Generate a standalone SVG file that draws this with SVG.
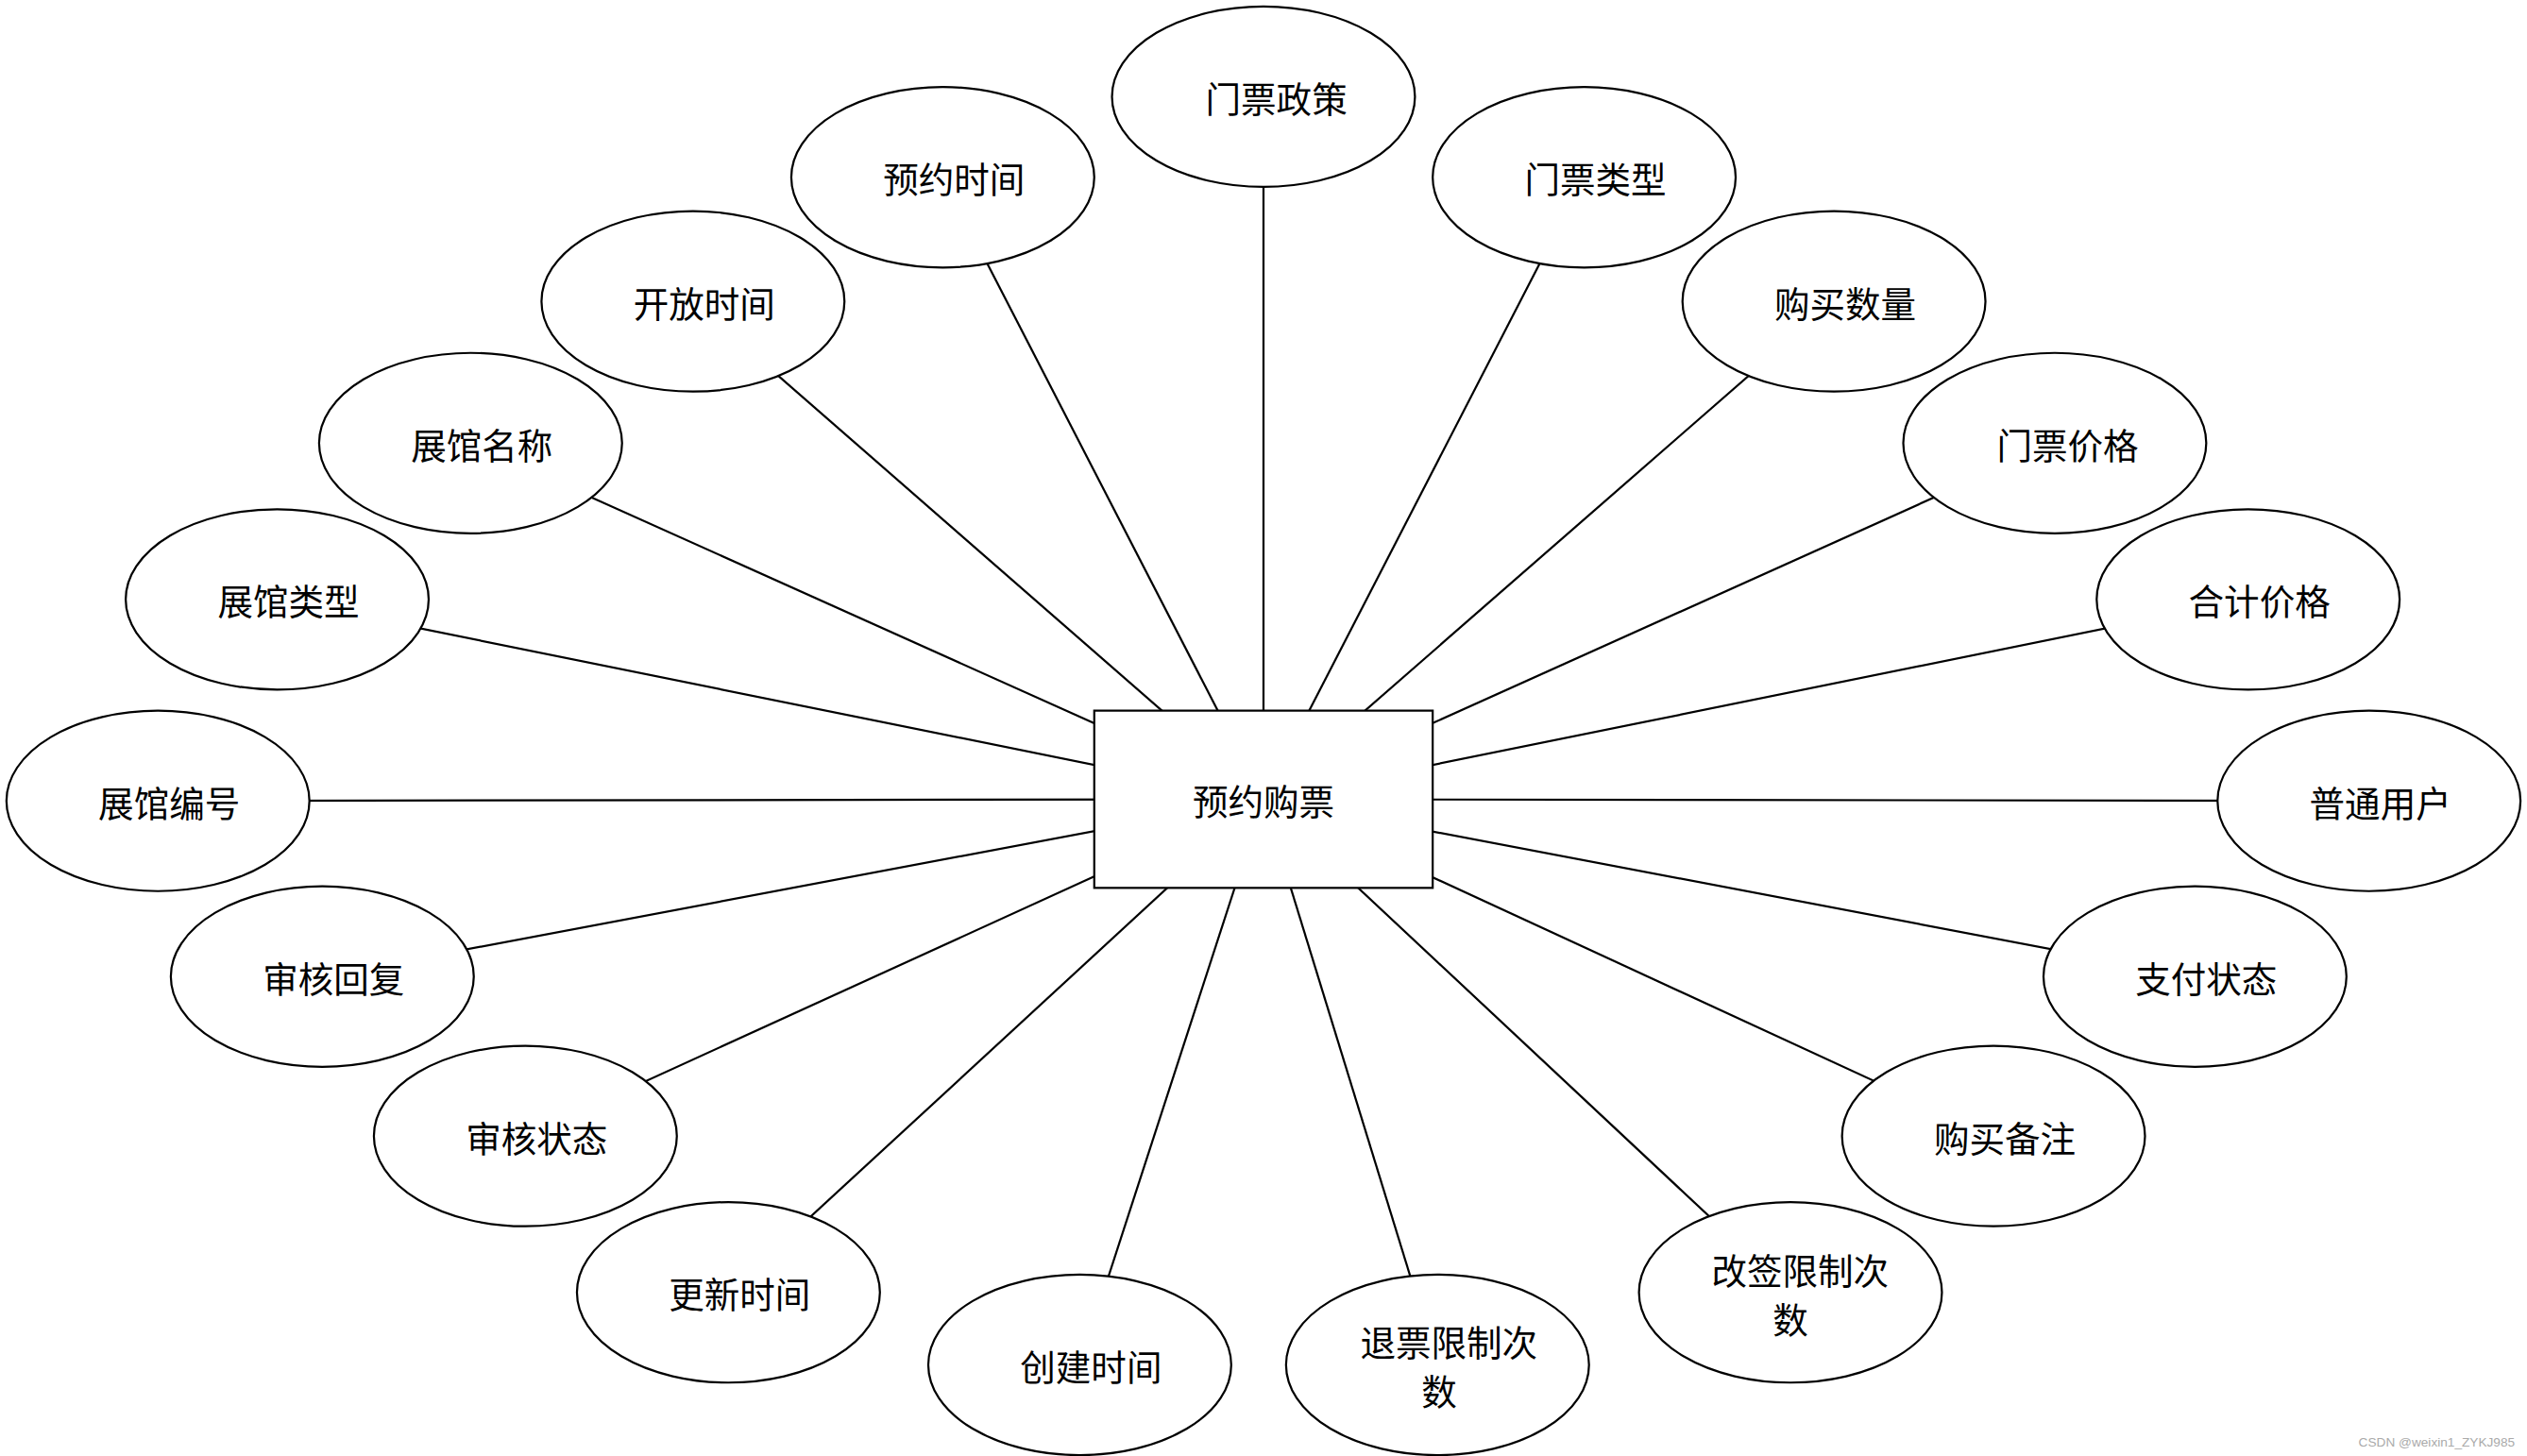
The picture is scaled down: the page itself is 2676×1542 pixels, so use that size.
<svg xmlns="http://www.w3.org/2000/svg" width="2676" height="1542" viewBox="0 0 2676 1542">
<style>
.e{fill:#fff;stroke:#000;stroke-width:1.3}
.c line{stroke:#000;stroke-width:1.3}
text{font-family:"Noto Sans CJK SC","Liberation Sans",sans-serif;font-size:22px;text-anchor:middle;dominant-baseline:central;fill:#000}
</style>
<rect width="2676" height="1542" fill="#fff"/>
<g transform="scale(1.7066)">
<g id="connectors" class="c">
<line x1="784" y1="496" x2="784" y2="60"/>
<line x1="784" y1="496" x2="585" y2="110"/>
<line x1="784" y1="496" x2="983" y2="110"/>
<line x1="784" y1="496" x2="430" y2="187"/>
<line x1="784" y1="496" x2="1138" y2="187"/>
<line x1="784" y1="496" x2="292" y2="275"/>
<line x1="784" y1="496" x2="1275" y2="275"/>
<line x1="784" y1="496" x2="172" y2="372"/>
<line x1="784" y1="496" x2="1395" y2="372"/>
<line x1="784" y1="496" x2="98" y2="497"/>
<line x1="784" y1="496" x2="1470" y2="497"/>
<line x1="784" y1="496" x2="200" y2="606"/>
<line x1="784" y1="496" x2="1362" y2="606"/>
<line x1="784" y1="496" x2="326" y2="705"/>
<line x1="784" y1="496" x2="1237" y2="705"/>
<line x1="784" y1="496" x2="452" y2="802"/>
<line x1="784" y1="496" x2="1111" y2="802"/>
<line x1="784" y1="496" x2="670" y2="847"/>
<line x1="784" y1="496" x2="892" y2="847"/>
</g>
<g id="center"><rect x="679" y="441" width="210" height="110" class="e"/><text x="784" y="496">预约购票</text></g>
<g id="n1"><ellipse class="e" cx="784" cy="60" rx="94" ry="56"/><text x="792" y="60">门票政策</text></g>
<g id="n2"><ellipse class="e" cx="585" cy="110" rx="94" ry="56"/><text x="592" y="110">预约时间</text></g>
<g id="n3"><ellipse class="e" cx="983" cy="110" rx="94" ry="56"/><text x="990" y="110">门票类型</text></g>
<g id="n4"><ellipse class="e" cx="430" cy="187" rx="94" ry="56"/><text x="437" y="187">开放时间</text></g>
<g id="n5"><ellipse class="e" cx="1138" cy="187" rx="94" ry="56"/><text x="1145" y="187">购买数量</text></g>
<g id="n6"><ellipse class="e" cx="292" cy="275" rx="94" ry="56"/><text x="299" y="275">展馆名称</text></g>
<g id="n7"><ellipse class="e" cx="1275" cy="275" rx="94" ry="56"/><text x="1283" y="275">门票价格</text></g>
<g id="n8"><ellipse class="e" cx="172" cy="372" rx="94" ry="56"/><text x="179" y="372">展馆类型</text></g>
<g id="n9"><ellipse class="e" cx="1395" cy="372" rx="94" ry="56"/><text x="1402" y="372">合计价格</text></g>
<g id="n10"><ellipse class="e" cx="98" cy="497" rx="94" ry="56"/><text x="105" y="497">展馆编号</text></g>
<g id="n11"><ellipse class="e" cx="1470" cy="497" rx="94" ry="56"/><text x="1477" y="497">普通用户</text></g>
<g id="n12"><ellipse class="e" cx="200" cy="606" rx="94" ry="56"/><text x="207" y="606">审核回复</text></g>
<g id="n13"><ellipse class="e" cx="1362" cy="606" rx="94" ry="56"/><text x="1369" y="606">支付状态</text></g>
<g id="n14"><ellipse class="e" cx="326" cy="705" rx="94" ry="56"/><text x="333" y="705">审核状态</text></g>
<g id="n15"><ellipse class="e" cx="1237" cy="705" rx="94" ry="56"/><text x="1244" y="705">购买备注</text></g>
<g id="n16"><ellipse class="e" cx="452" cy="802" rx="94" ry="56"/><text x="459" y="802">更新时间</text></g>
<g id="n17"><ellipse class="e" cx="1111" cy="802" rx="94" ry="56"/><text x="1117" y="787">改签限制次</text><text x="1111" y="818">数</text></g>
<g id="n18"><ellipse class="e" cx="670" cy="847" rx="94" ry="56"/><text x="677" y="847">创建时间</text></g>
<g id="n19"><ellipse class="e" cx="892" cy="847" rx="94" ry="56"/><text x="899" y="832">退票限制次</text><text x="893" y="862">数</text></g>
<text x="1512" y="895" style="font-size:8px;fill:#aaa;font-family:'Liberation Sans',sans-serif">CSDN @weixin1_ZYKJ985</text>
</g>
</svg>
